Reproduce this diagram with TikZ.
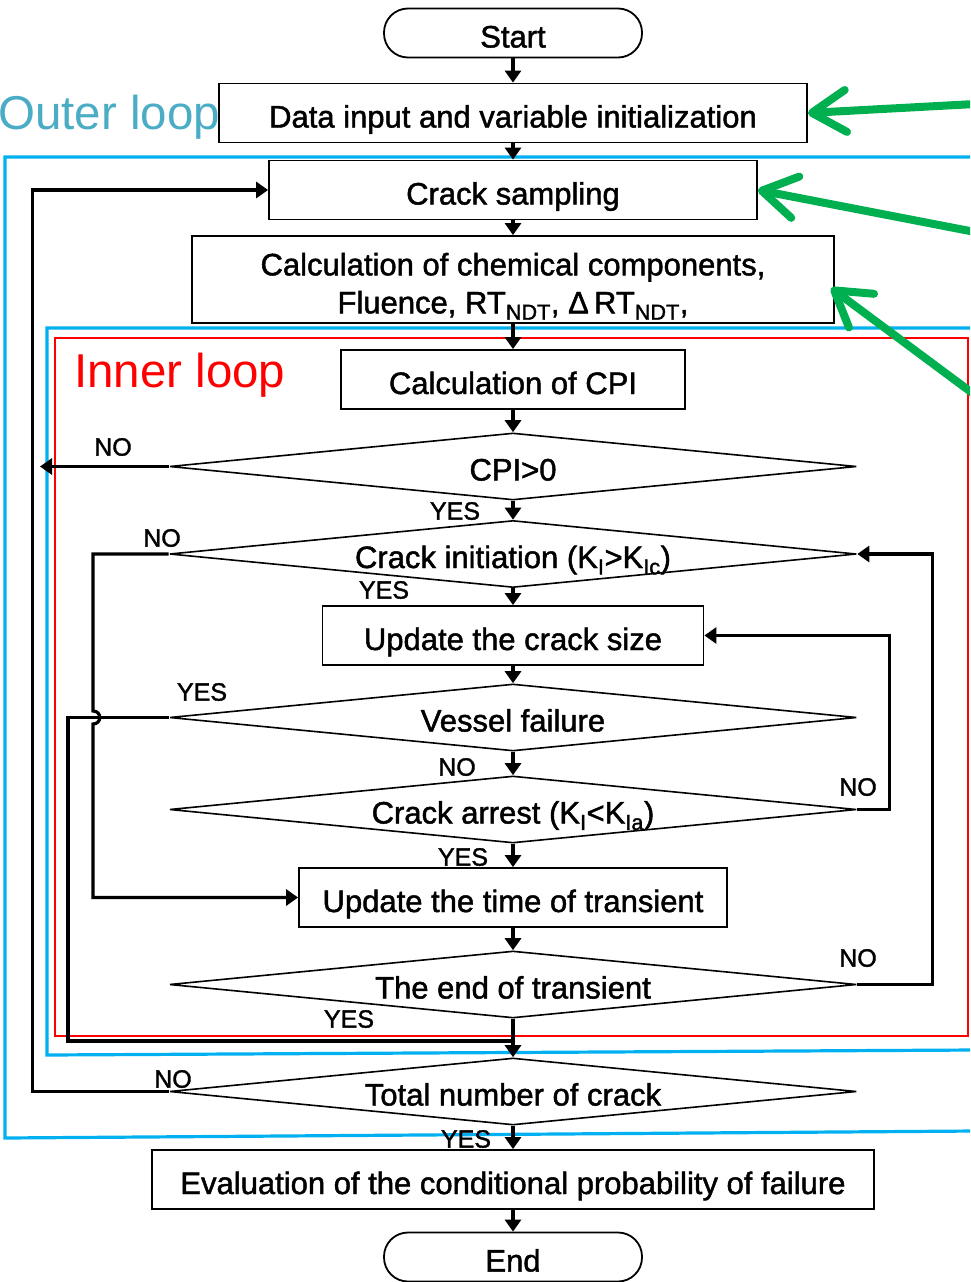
\documentclass[tikz,border=0pt]{standalone}
\usepackage{fontspec}
\setmainfont{Liberation Sans}[BoldFont={Liberation Sans}, BoldFeatures={FakeBold=1.5}]
\usetikzlibrary{arrows.meta,shapes.geometric}
\definecolor{loopblue}{RGB}{0,176,240}
\definecolor{looptext}{RGB}{75,172,198}
\definecolor{markgreen}{RGB}{0,176,80}
\begin{document}
\begin{tikzpicture}[
       x=1pt, y=-1pt,
       box/.style={draw, line width=1.8pt, minimum height=59pt, inner sep=0pt, text height=29pt, text depth=0pt, font=\fontsize{31}{38}\selectfont\bfseries},
       term/.style={draw, line width=1.8pt, rounded corners=24pt, minimum width=258pt, minimum height=49pt, inner sep=0pt, text height=29pt, text depth=0pt, font=\fontsize{31}{36}\selectfont\bfseries},
       cond/.style={draw, diamond, aspect=10.25, minimum width=687pt, minimum height=67pt, inner sep=0pt, line width=1.6pt, text height=28pt, text depth=0pt, font=\fontsize{31}{36}\selectfont\bfseries},
       lbl/.style={font=\fontsize{25}{30}\selectfont\bfseries, inner sep=0pt},
       looplbl/.style={font=\fontsize{47.5}{50}\selectfont, anchor=west, inner sep=0pt},
       arr/.style={line width=3.2pt, -{Triangle[length=12pt,width=16pt]}},
       wire/.style={line width=3.2pt},
       loopline/.style={line width=3.2pt},
       pointer/.style={markgreen, line width=8pt, line cap=round, -{Straight Barb[round, length=34pt, width=42pt]}}
   ]

   \path[use as bounding box] (0,0) rectangle (970,1282);
   \clip (0,0) rectangle (970,1282);

   % loop frames
   \draw[loopline, loopblue] (975,157) -- (5,157) -- (5,1138) -- (975,1131);
   \draw[loopline, loopblue] (975,328) -- (47,328) -- (47,1055) -- (975,1050);
   \draw[line width=2.8pt, red] (55,338) rectangle (968,1036);
   \node[looplbl, text=looptext] (outer) at (-2,117) {Outer loop};
   \node[looplbl, text=red] (inner) at (74,375) {Inner loop};

   % steps
   \node[term] (start) at (513,33) {Start};
   \node[box, minimum width=588pt] (data) at (513,113) {Data input and variable initialization};
   \node[box, minimum width=488pt] (sample) at (513,190) {Crack sampling};
   \node[box, minimum width=642pt, minimum height=87pt, align=center, text height=, text depth=] (chem) at (513,279.5)
       {\rule{0pt}{36pt}Calculation of chemical components,\\ Fluence, RT\textsubscript{NDT}, Δ\,RT\textsubscript{NDT},};
   \node[box, minimum width=344pt] (cpi) at (513,379.5) {Calculation of CPI};
   \node[cond] (pos) at (513,466.5) {CPI>0};
   \node[cond] (init) at (513,554) {Crack initiation (K\textsubscript{I}>K\textsubscript{Ic})};
   \node[box, minimum width=381pt] (size) at (513,635.5) {Update the crack size};
   \node[cond] (fail) at (513,717.5) {Vessel failure};
   \node[cond] (arrest) at (513,809.5) {Crack arrest (K\textsubscript{I}<K\textsubscript{Ia})};
   \node[box, minimum width=428pt] (time) at (513,897.5) {Update the time of transient};
   \node[cond] (tend) at (513,984.5) {The end of transient};
   \node[cond] (total) at (513,1091.5) {Total number of crack};
   \node[box, minimum width=722pt] (eval) at (513,1179.5) {Evaluation of the conditional probability of failure};
   \node[term] (end) at (513,1257) {End};

   \foreach \a/\b in {start/data, data/sample, sample/chem, chem/cpi, cpi/pos, pos/init,
       init/size, size/fail, fail/arrest, arrest/time, time/tend, tend/total, total/eval, eval/end} {
       \draw[arr] (\a) -- (\b);
   }

   % branches
   \coordinate (cpiout) at (40,466.5);
   \coordinate (merge) at (513,1041);
   \draw[arr] (pos.west) -- (cpiout);
   \draw[arr] (init.west) -- (93,554) -- (93,711) .. controls (102,711) and (102,724) .. (93,724)
       -- (93,897.5) -- (time.west);
   \draw[wire] (fail.west) -| (68,1041) -- (merge);
   \draw[arr] (arrest.east) -- ++(32,0) |- (size.east);
   \draw[arr] (tend.east) -- ++(75,0) |- (init.east);
   \draw[arr] (total.west) -- ++(-136,0) |- (sample.west);

   \node[lbl] (n1) at (113,447) {NO};
   \node[lbl] (y1) at (455,511) {YES};
   \node[lbl] (n2) at (162,538) {NO};
   \node[lbl] (y2) at (384,590) {YES};
   \node[lbl] (y3) at (202,692) {YES};
   \node[lbl] (n3) at (457,767) {NO};
   \node[lbl] (n4) at (858,787) {NO};
   \node[lbl] (y4) at (463,857) {YES};
   \node[lbl] (n5) at (858,958) {NO};
   \node[lbl] (y5) at (349,1019) {YES};
   \node[lbl] (n6) at (173,1079) {NO};
   \node[lbl] (y6) at (466,1139) {YES};

   % green pointers
   \coordinate (g1) at (975,104);
   \coordinate (g2) at (975,232);
   \coordinate (g3) at (975,395);
   \coordinate (chemtip) at (831,288);
   \draw[pointer] (g1) -- (data.east);
   \draw[pointer] (g2) -- (sample.east);
   \draw[pointer] (g3) -- (chemtip);
   \end{tikzpicture}
\end{document}
